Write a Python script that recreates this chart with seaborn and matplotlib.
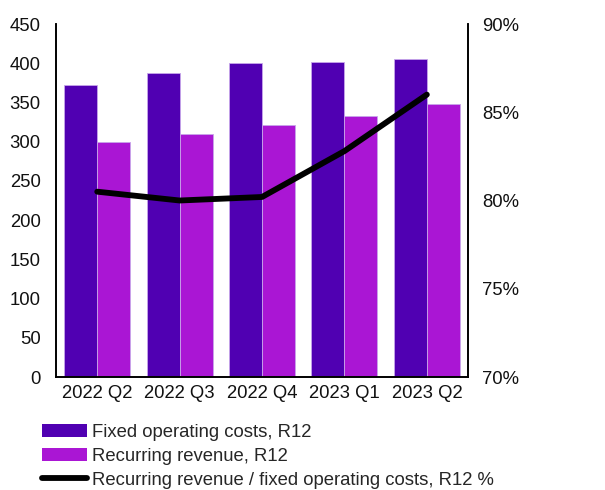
import pandas as pd
import seaborn as sns
import matplotlib.pyplot as plt
from matplotlib.patches import Patch
from matplotlib.lines import Line2D

# Datos
quarters = ["2022 Q2", "2022 Q3", "2022 Q4", "2023 Q1", "2023 Q2"]
fixed_costs = [372, 388, 400, 402, 405]
recurring_revenue = [299, 310, 321, 333, 348]
ratio_pct = [80.5, 80.0, 80.2, 82.8, 86.0]

fixed_label = "Fixed operating costs, R12"
recurring_label = "Recurring revenue, R12"
ratio_label = "Recurring revenue / fixed operating costs, R12 %"

fixed_color = "#5000B2"
recurring_color = "#AA16D4"

sns.set_style("white")
plt.rcParams["font.family"] = ["Liberation Sans", "DejaVu Sans"]

bars = pd.DataFrame({
    "quarter": quarters * 2,
    "value": fixed_costs + recurring_revenue,
    "series": [fixed_label] * len(quarters) + [recurring_label] * len(quarters),
})
line = pd.DataFrame({"quarter": quarters, "ratio": ratio_pct})

fig = plt.figure(figsize=(6.05, 4.9), dpi=100)
ax = fig.add_axes([0.0926, 0.2306, 0.681, 0.7204])

sns.barplot(data=bars, x="quarter", y="value", hue="series", order=quarters,
            palette=[fixed_color, recurring_color], width=0.8, saturation=1,
            edgecolor="#c7a6ea", linewidth=0.6, ax=ax, legend=False)
ax.set_ylim(0, 450)
ax.set_yticks(range(0, 451, 50))
ax.set_xlabel("")
ax.set_ylabel("")

ax2 = ax.twinx()
sns.lineplot(data=line, x="quarter", y="ratio", color="black", linewidth=4.2,
             solid_capstyle="round", ax=ax2, legend=False)
ax2.set_ylim(70, 90)
ax2.set_yticks([70, 75, 80, 85, 90])
ax2.set_yticklabels([f"{v}%" for v in [70, 75, 80, 85, 90]])
ax2.set_ylabel("")
ax.set_xlim(-0.5, len(quarters) - 0.5)

for a in (ax, ax2):
    a.spines["top"].set_visible(False)
    for s in ("left", "right", "bottom"):
        a.spines[s].set_color("black")
        a.spines[s].set_linewidth(1.2)
ax.tick_params(axis="y", length=0, pad=11, labelsize=13.3, colors="#111111")
ax.tick_params(axis="x", length=0, pad=6, labelsize=13.3, colors="#111111")
ax2.tick_params(axis="y", length=0, pad=10, labelsize=13.3, colors="#111111")

handles = [
    Patch(facecolor=fixed_color, edgecolor="none"),
    Patch(facecolor=recurring_color, edgecolor="none"),
    Line2D([0], [0], color="black", linewidth=4.2, solid_capstyle="round"),
]
fig.legend(handles, [fixed_label, recurring_label, ratio_label],
           loc="upper left", bbox_to_anchor=(0.069, 0.134), frameon=False,
           fontsize=13.3, handlelength=2.45, handleheight=0.7,
           handletextpad=0.27, labelspacing=0.36, borderaxespad=0,
           borderpad=0)

fig.savefig("out.png", dpi=100)
